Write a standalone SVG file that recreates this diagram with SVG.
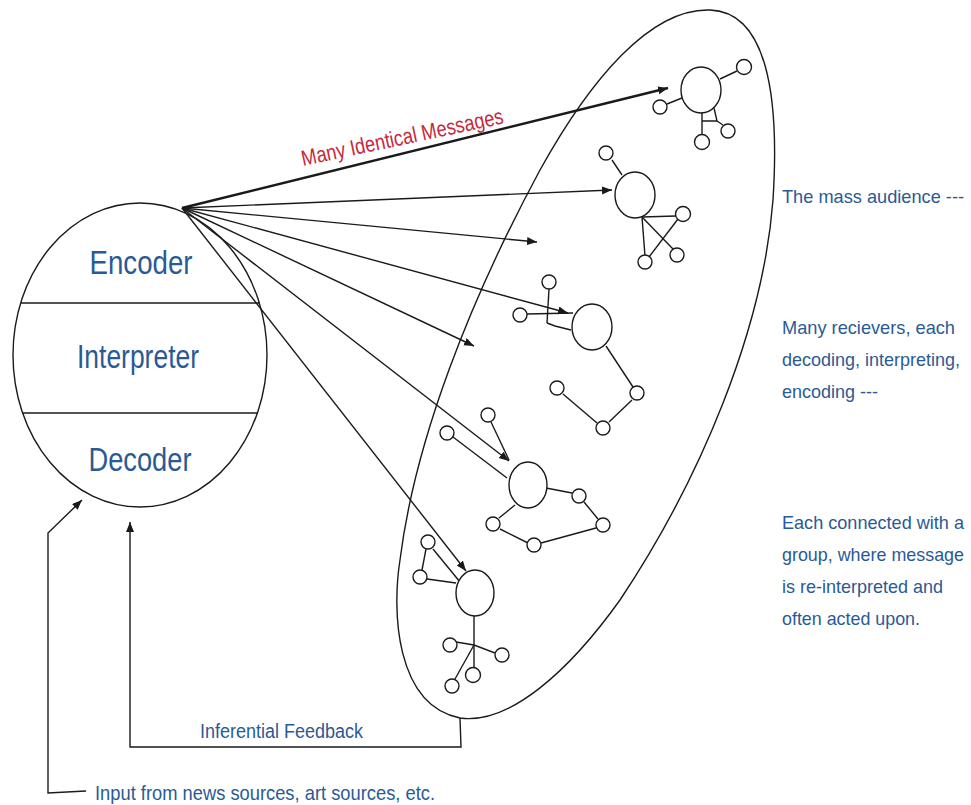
<svg xmlns="http://www.w3.org/2000/svg" width="971" height="805" viewBox="0 0 971 805">
<defs>
<style>
.ln{fill:none;stroke:#1a1a1a;stroke-width:1.4}
.nd{fill:#fff;stroke:#1a1a1a;stroke-width:1.4}
.bt{font-family:"Liberation Sans",Arial,sans-serif;fill:#2a5a96}
.rt{font-family:"Liberation Sans",Arial,sans-serif;fill:#c8283c}
</style>
<marker id="ah" markerUnits="userSpaceOnUse" markerWidth="12" markerHeight="10" refX="10" refY="4" orient="auto">
<path d="M0,0 L10,4 L0,8 Z" fill="#1a1a1a"/>
</marker>
</defs>
<rect width="971" height="805" fill="#fff"/>

<g id="source">
<ellipse cx="140" cy="355" rx="127" ry="152" class="ln"/>
<line x1="21" y1="303" x2="260" y2="303" class="ln"/>
<line x1="23" y1="413" x2="258" y2="413" class="ln"/>
<text x="141" y="274" class="bt" font-size="34" text-anchor="middle" textLength="103" lengthAdjust="spacingAndGlyphs">Encoder</text>
<text x="138" y="368" class="bt" font-size="34" text-anchor="middle" textLength="122" lengthAdjust="spacingAndGlyphs">Interpreter</text>
<text x="140" y="471" class="bt" font-size="34" text-anchor="middle" textLength="103" lengthAdjust="spacingAndGlyphs">Decoder</text>
</g>

<g id="audience">
<path class="ln" d="M460,718 C395,705 392,610 400,560 C415,440 470,300 540,170 C590,80 650,8 710,10 C765,12 780,90 773,200 C763,330 700,480 620,600 C570,670 510,725 460,718 Z"/>
</g>

<g id="connectors">
<line x1="182" y1="208" x2="668" y2="88" stroke="#1a1a1a" stroke-width="2.6" marker-end="url(#ah)"/>
<line x1="182" y1="208" x2="612" y2="190" class="ln" marker-end="url(#ah)"/>
<line x1="182" y1="208" x2="537" y2="242" class="ln" marker-end="url(#ah)"/>
<line x1="182" y1="208" x2="568" y2="313" class="ln" marker-end="url(#ah)"/>
<line x1="182" y1="208" x2="474" y2="346" class="ln" marker-end="url(#ah)"/>
<line x1="182" y1="208" x2="509" y2="461" class="ln" marker-end="url(#ah)"/>
<line x1="182" y1="208" x2="466" y2="571" class="ln" marker-end="url(#ah)"/>
<polyline points="460,718 461,747 130,747 130,522" class="ln" marker-end="url(#ah)"/>
<polyline points="86,791 48,793 48,533 82,500" class="ln" marker-end="url(#ah)"/>
</g>

<g id="group1">
<line x1="720" y1="79" x2="737" y2="71" class="ln"/>
<line x1="667" y1="104" x2="682" y2="98" class="ln"/>
<line x1="702" y1="112" x2="702" y2="134" class="ln"/>
<polyline points="714,108 717,121 702,121" class="ln"/>
<line x1="717" y1="121" x2="723" y2="125" class="ln"/>
<ellipse cx="701" cy="90" rx="20" ry="23" class="nd"/>
<circle cx="744" cy="67" r="7.5" class="nd"/>
<circle cx="660" cy="107" r="7" class="nd"/>
<circle cx="702" cy="142" r="7.5" class="nd"/>
<circle cx="728" cy="131" r="7" class="nd"/>
</g>

<g id="group2">
<line x1="612" y1="160" x2="622" y2="175" class="ln"/>
<line x1="642" y1="217" x2="676" y2="216" class="ln"/>
<line x1="642" y1="217" x2="645" y2="256" class="ln"/>
<line x1="642" y1="217" x2="673" y2="249" class="ln"/>
<line x1="678" y1="219" x2="649" y2="257" class="ln"/>
<ellipse cx="635" cy="195" rx="20" ry="23" class="nd"/>
<circle cx="606" cy="153" r="7" class="nd"/>
<circle cx="683" cy="214" r="7.5" class="nd"/>
<circle cx="645" cy="262" r="7" class="nd"/>
<circle cx="677" cy="255" r="7" class="nd"/>
</g>

<g id="group3">
<line x1="549" y1="289" x2="547" y2="323" class="ln"/>
<polyline points="547,323 555,326 571,330" class="ln"/>
<line x1="527" y1="314" x2="573" y2="313" class="ln"/>
<line x1="606" y1="346" x2="633" y2="387" class="ln"/>
<line x1="632" y1="400" x2="609" y2="422" class="ln"/>
<line x1="563" y1="394" x2="597" y2="423" class="ln"/>
<ellipse cx="592" cy="327" rx="20" ry="23" class="nd"/>
<circle cx="549" cy="282" r="7" class="nd"/>
<circle cx="520" cy="315" r="7" class="nd"/>
<circle cx="637" cy="393" r="7" class="nd"/>
<circle cx="603" cy="428" r="7" class="nd"/>
<circle cx="557" cy="388" r="7" class="nd"/>
</g>

<g id="group4">
<line x1="491" y1="422" x2="509" y2="460" class="ln"/>
<line x1="453" y1="437" x2="507" y2="478" class="ln"/>
<line x1="546" y1="488" x2="572" y2="493" class="ln"/>
<line x1="584" y1="502" x2="598" y2="519" class="ln"/>
<line x1="596" y1="528" x2="541" y2="543" class="ln"/>
<line x1="500" y1="529" x2="528" y2="543" class="ln"/>
<line x1="499" y1="518" x2="515" y2="505" class="ln"/>
<ellipse cx="528" cy="485" rx="19" ry="23" class="nd"/>
<circle cx="488" cy="415" r="7" class="nd"/>
<circle cx="447" cy="433" r="7" class="nd"/>
<circle cx="579" cy="496" r="7" class="nd"/>
<circle cx="603" cy="525" r="7" class="nd"/>
<circle cx="534" cy="545" r="7" class="nd"/>
<circle cx="493" cy="524" r="7" class="nd"/>
</g>

<g id="group5">
<line x1="433" y1="549" x2="460" y2="582" class="ln"/>
<line x1="426" y1="549" x2="422" y2="570" class="ln"/>
<line x1="427" y1="579" x2="456" y2="583" class="ln"/>
<line x1="474" y1="616" x2="474" y2="645" class="ln"/>
<line x1="456" y1="642" x2="474" y2="645" class="ln"/>
<line x1="474" y1="645" x2="495" y2="653" class="ln"/>
<line x1="474" y1="645" x2="474" y2="667" class="ln"/>
<line x1="474" y1="645" x2="455" y2="679" class="ln"/>
<ellipse cx="475" cy="593" rx="19" ry="23" class="nd"/>
<circle cx="428" cy="542" r="7" class="nd"/>
<circle cx="420" cy="577" r="7" class="nd"/>
<circle cx="450" cy="645" r="7" class="nd"/>
<circle cx="502" cy="655" r="7" class="nd"/>
<circle cx="473" cy="675" r="7.5" class="nd"/>
<circle cx="452" cy="686" r="7" class="nd"/>
</g>

<g id="labels">
<text class="rt" font-size="22" transform="translate(303,166) rotate(-12)" textLength="206" lengthAdjust="spacingAndGlyphs">Many  Identical Messages</text>
<text x="200" y="738" class="bt" font-size="20" textLength="163" lengthAdjust="spacingAndGlyphs">Inferential Feedback</text>
<text x="95" y="800" class="bt" font-size="21" textLength="340" lengthAdjust="spacingAndGlyphs">Input from news sources, art sources, etc.</text>
<text x="782" y="203" class="bt" font-size="18.5" textLength="182" lengthAdjust="spacingAndGlyphs">The mass audience ---</text>
<text x="782" y="334" class="bt" font-size="18.5" textLength="173" lengthAdjust="spacingAndGlyphs">Many recievers, each</text>
<text x="782" y="366" class="bt" font-size="18.5" textLength="178" lengthAdjust="spacingAndGlyphs">decoding, interpreting,</text>
<text x="782" y="398" class="bt" font-size="18.5" textLength="96" lengthAdjust="spacingAndGlyphs">encoding ---</text>
<text x="782" y="529" class="bt" font-size="18.5" textLength="182" lengthAdjust="spacingAndGlyphs">Each connected with a</text>
<text x="782" y="561" class="bt" font-size="18.5" textLength="182" lengthAdjust="spacingAndGlyphs">group, where message</text>
<text x="782" y="593" class="bt" font-size="18.5" textLength="161" lengthAdjust="spacingAndGlyphs">is re-interpreted and</text>
<text x="782" y="625" class="bt" font-size="18.5" textLength="138" lengthAdjust="spacingAndGlyphs">often acted upon.</text>
</g>
</svg>
